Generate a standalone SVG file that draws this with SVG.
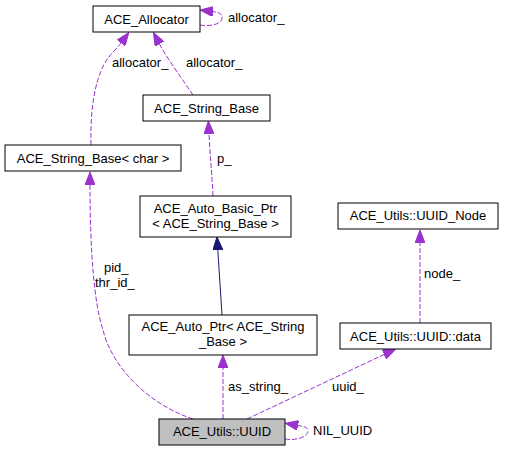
<svg xmlns="http://www.w3.org/2000/svg" width="507" height="451" viewBox="0 0 507 451">
<style>
  text { font-family: "Liberation Sans", Arial, sans-serif; font-size: 13px; fill: #000; }
  .node rect { fill: #fff; stroke: #000; stroke-width: 1; }
  .node.main rect { fill: #bfbfbf; }
  .node text { text-anchor: middle; }
  .use { fill: none; stroke: #9a32cd; stroke-width: 1; stroke-dasharray: 5,2; marker-end: url(#ap); }
  .inh { fill: none; stroke: #191970; stroke-width: 1; marker-end: url(#an); }
</style>
<defs>
  <marker id="ap" viewBox="0 0 13 10" refX="0" refY="5" markerWidth="13" markerHeight="10" markerUnits="userSpaceOnUse" orient="auto">
    <path d="M0,0 L13,5 L0,10 z" fill="#9a32cd" stroke="#9a32cd"/>
  </marker>
  <marker id="an" viewBox="0 0 13 10" refX="0" refY="5" markerWidth="13" markerHeight="10" markerUnits="userSpaceOnUse" orient="auto">
    <path d="M0,0 L13,5 L0,10 z" fill="#191970" stroke="#191970"/>
  </marker>
</defs>
<rect width="507" height="451" fill="#fff"/>
<g id="connectors">
  <path class="use" d="M200,25 C210,27 222,24 222,18 C222,13 218,12.2 213,11.6"/>
  <text x="228" y="22">allocator_</text>
  <path class="use" d="M91,145 C90,105 96,75 108,58 C112,53 118,47 121,43"/>
  <text x="112" y="67">allocator_</text>
  <path class="use" d="M193,95 C183,80 168,60 159.5,44"/>
  <text x="186" y="67">allocator_</text>
  <path class="use" d="M213,196 C212,175 210,155 209,134"/>
  <text x="217" y="163">p_</text>
  <path class="inh" d="M222,315 L217.8,250"/>
  <path class="use" d="M193,419 C150,405 112,368 103,330 C94,303 90,250 90,185"/>
  <text x="104" y="272">pid_</text>
  <text x="95" y="287">thr_id_</text>
  <path class="use" d="M223,419 L223,368"/>
  <text x="228" y="391">as_string_</text>
  <path class="use" d="M247,419 L384,354.5"/>
  <text x="332" y="391">uuid_</text>
  <path class="use" d="M420,323 L420,243"/>
  <text x="424" y="278">node_</text>
  <path class="use" d="M285,439 C295,441 308,437 308,431 C308,427 303,426.4 298,425.5"/>
  <text x="313" y="435">NIL_UUID</text>
</g>
<g id="ACE_Allocator" class="node">
  <rect x="93" y="6" width="107" height="26"/>
  <text x="146.5" y="23.5">ACE_Allocator</text>
</g>
<g id="ACE_String_Base" class="node">
  <rect x="143" y="95" width="127" height="26"/>
  <text x="206.5" y="112.5">ACE_String_Base</text>
</g>
<g id="ACE_String_Base_char" class="node">
  <rect x="5" y="145" width="176" height="26"/>
  <text x="93" y="162.5">ACE_String_Base&lt; char &gt;</text>
</g>
<g id="ACE_Auto_Basic_Ptr" class="node">
  <rect x="140" y="196" width="151" height="41"/>
  <text x="215.5" y="213">ACE_Auto_Basic_Ptr</text>
  <text x="215.5" y="227.5">&lt; ACE_String_Base &gt;</text>
</g>
<g id="ACE_Utils_UUID_Node" class="node">
  <rect x="338" y="203" width="160" height="26"/>
  <text x="418" y="220">ACE_Utils::UUID_Node</text>
</g>
<g id="ACE_Auto_Ptr" class="node">
  <rect x="129" y="315" width="188" height="40"/>
  <text x="223" y="331">ACE_Auto_Ptr&lt; ACE_String</text>
  <text x="223" y="346">_Base &gt;</text>
</g>
<g id="ACE_Utils_UUID_data" class="node">
  <rect x="340" y="323" width="151" height="26"/>
  <text x="415.5" y="340.5">ACE_Utils::UUID::data</text>
</g>
<g id="ACE_Utils_UUID" class="node main">
  <rect x="159" y="419" width="126" height="26"/>
  <text x="222" y="436">ACE_Utils::UUID</text>
</g>
</svg>
